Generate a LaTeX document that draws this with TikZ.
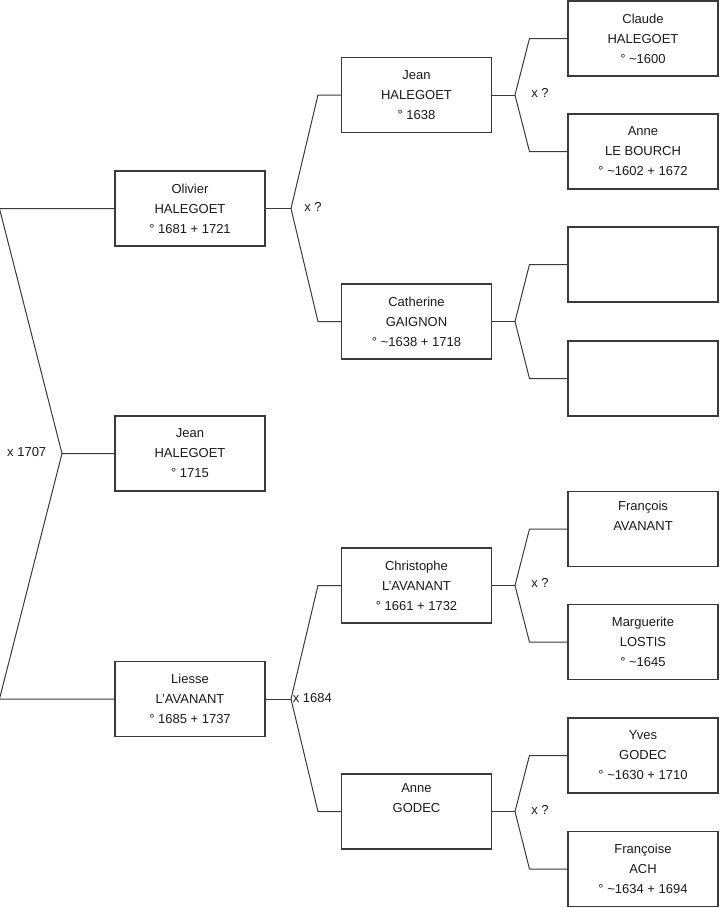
\documentclass[tikz,border=0pt]{standalone}
\usepackage{fontspec}
\setmainfont{Liberation Sans}
\usepackage{tikz}
\usetikzlibrary{positioning}
\definecolor{linegray}{HTML}{3A3A3A}
\definecolor{textgray}{HTML}{1A1A1A}
\tikzset{
  persbox/.style={
    draw=linegray,
    line width=0.8pt,
    align=center,
    minimum width=112.5pt,
    minimum height=56.25pt,
    inner sep=0pt,
    text=textgray,
    font=\fontsize{9.75pt}{15pt}\selectfont
  },
  tieline/.style={
    draw=linegray,
    line width=0.75pt
  },
  tielabel/.style={
    inner sep=0pt,
    text=textgray,
    font=\fontsize{9.75pt}{12pt}\selectfont
  }
}

\begin{document}
\begin{tikzpicture}[x=0.75pt, y=-0.75pt]
    \useasboundingbox (0,0) rectangle (719,908);

    \node[persbox] (olivier) at (190,208.5) {Olivier\\HALEGOET\\° 1681 + 1721};
    \node[persbox] (jeanfils) at (190,453.5) {Jean\\HALEGOET\\° 1715};
    \node[persbox] (liesse) at (190,699) {Liesse\\L'AVANANT\\° 1685 + 1737};

    \node[persbox] (jeanpere) at (416.5,95) {Jean\\HALEGOET\\° 1638};
    \node[persbox] (catherine) at (416.5,321.5) {Catherine\\GAIGNON\\° \textasciitilde1638 + 1718};
    \node[persbox] (christophe) at (416.5,585.5) {Christophe\\L'AVANANT\\° 1661 + 1732};
    \node[persbox] (annegodec) at (416.5,811.5) {Anne\\GODEC\\\strut};

    \node[persbox] (claude) at (643,38.5) {Claude\\HALEGOET\\° \textasciitilde1600};
    \node[persbox] (anneleb) at (643,151.5) {Anne\\LE BOURCH\\° \textasciitilde1602 + 1672};
    \node[persbox] (vide1) at (643,264.5) {};
    \node[persbox] (vide2) at (643,378.5) {};
    \node[persbox] (francois) at (643,529) {François\\AVANANT\\\strut};
    \node[persbox] (marguerite) at (643,642) {Marguerite\\LOSTIS\\° \textasciitilde1645};
    \node[persbox] (yves) at (643,755.5) {Yves\\GODEC\\° \textasciitilde1630 + 1710};
    \node[persbox] (francoise) at (643,869) {Françoise\\ACH\\° \textasciitilde1634 + 1694};

    \coordinate (u0) at (62,453.5);
    \coordinate (u1) at (291,208.5);
    \coordinate (u2) at (291,699);
    \coordinate (u3) at (515,95);
    \coordinate (u4) at (515,321.5);
    \coordinate (u5) at (515,585.5);
    \coordinate (u6) at (515,811.5);

    \draw[tieline] (olivier.west) -- ++(-115,0) -- (u0) -- (jeanfils.west);
    \draw[tieline] (liesse.west) -- ++(-115,0) -- (u0);

    \draw[tieline] (olivier.east) -- (u1);
    \draw[tieline] (jeanpere.west) -- ++(-23,0) -- (u1);
    \draw[tieline] (catherine.west) -- ++(-23,0) -- (u1);
    \draw[tieline] (liesse.east) -- (u2);
    \draw[tieline] (christophe.west) -- ++(-23,0) -- (u2);
    \draw[tieline] (annegodec.west) -- ++(-23,0) -- (u2);

    \draw[tieline] (jeanpere.east) -- (u3);
    \draw[tieline] (claude.west) -- ++(-38,0) -- (u3);
    \draw[tieline] (anneleb.west) -- ++(-38,0) -- (u3);
    \draw[tieline] (catherine.east) -- (u4);
    \draw[tieline] (vide1.west) -- ++(-38,0) -- (u4);
    \draw[tieline] (vide2.west) -- ++(-38,0) -- (u4);
    \draw[tieline] (christophe.east) -- (u5);
    \draw[tieline] (francois.west) -- ++(-38,0) -- (u5);
    \draw[tieline] (marguerite.west) -- ++(-38,0) -- (u5);
    \draw[tieline] (annegodec.east) -- (u6);
    \draw[tieline] (yves.west) -- ++(-38,0) -- (u6);
    \draw[tieline] (francoise.west) -- ++(-38,0) -- (u6);

    \node[tielabel, anchor=east] (mar0) at (46.5,452) {x 1707};
    \node[tielabel, anchor=west] (mar1) at (304,207) {x ?};
    \node[tielabel, anchor=west] (mar2) at (292.5,698) {x 1684};
    \node[tielabel, anchor=west] (mar3) at (531,93) {x ?};
    \node[tielabel, anchor=west] (mar5) at (531,583) {x ?};
    \node[tielabel, anchor=west] (mar6) at (531,810) {x ?};
\end{tikzpicture}
\end{document}
